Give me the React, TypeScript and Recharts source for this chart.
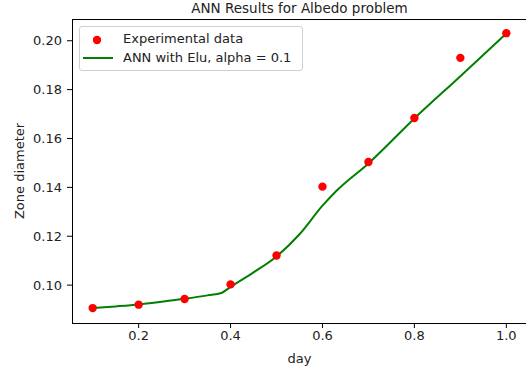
import React from 'react';
import { ComposedChart, Line, Scatter, XAxis, YAxis } from 'recharts';

const expX = [0.1, 0.2, 0.3, 0.4, 0.5, 0.6, 0.7, 0.8, 0.9, 1.0];
const expY = [0.0906, 0.0920, 0.0943, 0.1003, 0.1121, 0.1403, 0.1504, 0.1684, 0.1930, 0.2031];

const annX = [0.1, 0.15, 0.2, 0.25, 0.3, 0.35, 0.38, 0.4, 0.45, 0.5, 0.55, 0.6, 0.63, 0.7, 0.8, 0.9, 1.0];
const annY = [0.0906, 0.0913, 0.0921, 0.0932, 0.0944, 0.0958, 0.0968, 0.0993, 0.1052, 0.1117, 0.1208, 0.1325, 0.1385, 0.1498, 0.1682, 0.1855, 0.2030];

const xTicks = [0.2, 0.4, 0.6, 0.8, 1.0];
const yTicks = [0.10, 0.12, 0.14, 0.16, 0.18, 0.20];

const title = 'ANN Results for Albedo problem';
const xLabel = 'day';
const yLabel = 'Zone diameter';
const expName = 'Experimental data';
const annName = 'ANN with Elu, alpha = 0.1';

const expData = expX.map((x, i) => ({ x, y: expY[i] }));
const annData = annX.map((x, i) => ({ x, y: annY[i] }));

const FONT = '"DejaVu Sans", sans-serif';
const TXT = '#222';

const LegendBox = () => (
  <div
    style={{
      position: 'absolute',
      left: 79,
      top: 26,
      width: 224,
      height: 45,
      boxSizing: 'border-box',
      border: '1px solid #d0d0d0',
      borderRadius: 3,
      background: 'rgba(255,255,255,0.8)',
      fontFamily: FONT,
      fontSize: 13,
      color: TXT,
    }}
  >
    <svg width={40} height={45} style={{ position: 'absolute', left: 0, top: 0 }}>
      <circle cx={17} cy={13} r={4.2} fill="red" />
      <line x1={3} y1={31} x2={33} y2={31} stroke="green" strokeWidth={2} />
    </svg>
    <div style={{ position: 'absolute', left: 43, top: 4, whiteSpace: 'nowrap', lineHeight: '16px' }}>{expName}</div>
    <div style={{ position: 'absolute', left: 43, top: 23, whiteSpace: 'nowrap', lineHeight: '16px' }}>{annName}</div>
  </div>
);

const Dot = (props: any) => <circle cx={props.cx} cy={props.cy} r={4.2} fill="red" />;

export default function App() {
  return (
    <div style={{ position: 'fixed', left: 0, top: 0, width: 526, height: 371, overflow: 'hidden', background: '#fff' }}>
      <ComposedChart
        width={540}
        height={371}
        margin={{ top: 19, right: 13, bottom: 18, left: 12 }}
        style={{ fontFamily: FONT }}
      >
        <XAxis
          dataKey="x"
          type="number"
          domain={[0.055, 1.045]}
          ticks={xTicks}
          allowDataOverflow
          tickFormatter={(v: number) => v.toFixed(1)}
          tickSize={5}
          tickMargin={3}
          height={30}
          axisLine={false}
          tickLine={{ stroke: '#000' }}
          tick={{ fill: TXT, fontSize: 13, fontFamily: FONT }}
        />
        <YAxis
          dataKey="y"
          type="number"
          domain={[0.0845, 0.2089]}
          ticks={yTicks}
          allowDataOverflow
          tickFormatter={(v: number) => v.toFixed(2)}
          tickSize={5}
          tickMargin={5}
          width={60}
          axisLine={false}
          tickLine={{ stroke: '#000' }}
          tick={{ fill: TXT, fontSize: 13, fontFamily: FONT }}
        />
        <Line
          data={annData}
          dataKey="y"
          name={annName}
          type="monotone"
          stroke="green"
          strokeWidth={2}
          dot={false}
          activeDot={false}
          isAnimationActive={false}
        />
        <Scatter
          data={expData}
          dataKey="y"
          name={expName}
          fill="red"
          shape={Dot}
          isAnimationActive={false}
        />
      </ComposedChart>
      <div
        style={{
          position: 'absolute',
          left: 72,
          top: 19,
          width: 460,
          height: 305,
          boxSizing: 'border-box',
          border: '1px solid #000',
          pointerEvents: 'none',
        }}
      />
      <LegendBox />
      <div style={{ position: 'absolute', left: 72, width: 455, top: -0.5, textAlign: 'center', fontFamily: FONT, fontSize: 13.5, color: TXT, whiteSpace: 'nowrap' }}>
        {title}
      </div>
      <div style={{ position: 'absolute', left: 72, width: 455, top: 351, textAlign: 'center', fontFamily: FONT, fontSize: 13, color: TXT }}>
        {xLabel}
      </div>
      <div
        style={{
          position: 'absolute',
          left: 19,
          top: 171,
          transform: 'translate(-50%, -50%) rotate(-90deg)',
          fontFamily: FONT,
          fontSize: 13,
          color: TXT,
          whiteSpace: 'nowrap',
        }}
      >
        {yLabel}
      </div>
    </div>
  );
}
